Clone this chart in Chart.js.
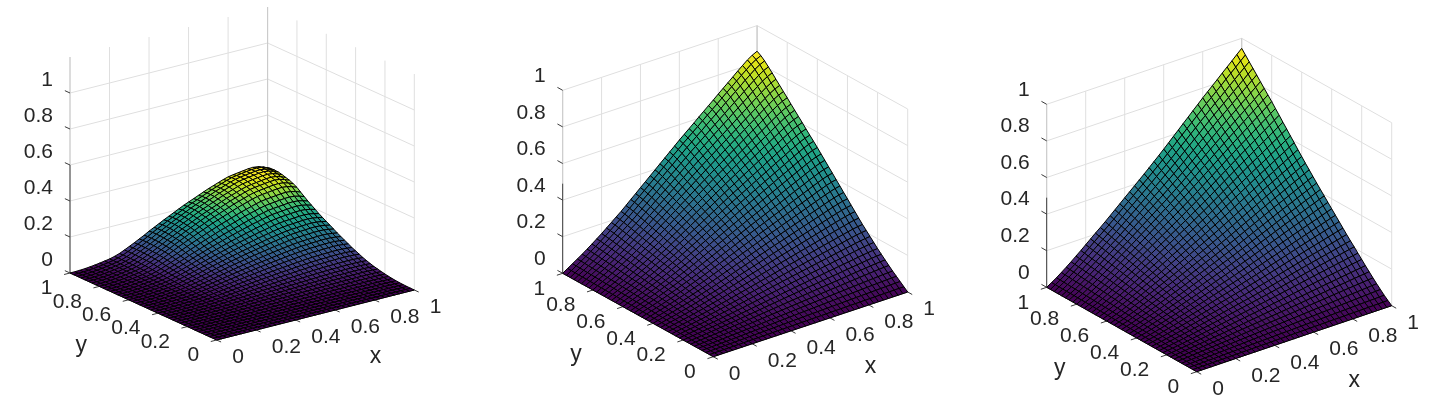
<!DOCTYPE html>
<html>
<head>
<meta charset="utf-8">
<title>Surfaces</title>
<script src="https://cdn.jsdelivr.net/npm/chart.js@4"></script>
<style>
  html, body { margin: 0; background: #fff; }
  canvas { position: absolute; top: 0; }
</style>
</head>
<body>
<canvas id="surfaceA" width="478" height="412" style="left:0"></canvas>
<canvas id="surfaceB" width="482" height="412" style="left:478px"></canvas>
<canvas id="surfaceC" width="476" height="412" style="left:960px"></canvas>
<script>
// mesh nodes along x and along y
var meshNodes = [0, .025, .05, .075, .1, .125, .15, .175, .2, .225, .25, .275, .3, .325, .35, .375, .4, .425, .45, .475, .5,
    .525, .55, .575, .6, .625, .65, .675, .7, .725, .75, .775, .8, .825, .85, .875, .9, .925, .95, .975, 1];

// edge profiles, height of a node = profileX[i] * profileY[j] * peak
var edgeAx = [0, .001, .004, .01, .018, .028, .04, .054, .068, .09, .118, .155, .195, .235, .278, .32, .368, .41, .452, .495, .535,
    .575, .615, .655, .69, .725, .76, .795, .83, .86, .89, .92, .945, .96, .972, .984, .995, 1, .99, .965, .93];
var edgeAy = [0, .001, .003, .006, .01, .016, .024, .034, .046, .06, .076, .092, .112, .135, .16, .19, .22, .25, .285, .32, .355,
    .39, .43, .47, .505, .545, .585, .63, .675, .72, .77, .82, .875, .91, .94, .96, .98, .995, 1, 1, .985];
var edgeB = [0, .02, .04, .06, .08, .102, .124, .147, .17, .195, .22, .245, .27, .297, .325, .352, .38, .407, .435, .462, .49,
    .517, .545, .572, .6, .626, .652, .678, .705, .731, .757, .783, .81, .836, .862, .888, .915, .94, .965, .985, 1];
var edgeC = [0, .018, .036, .057, .078, .1, .123, .146, .17, .194, .218, .241, .265, .29, .315, .34, .365, .39, .415, .44, .465,
    .491, .517, .543, .57, .597, .625, .652, .68, .707, .735, .762, .79, .816, .842, .868, .895, .921, .947, .974, 1];
var peakA = 0.335;
var peakB = 0.86;
var peakC = 0.945;

var xTicks = [0, .2, .4, .6, .8, 1];
var yTicks = [0, .2, .4, .6, .8, 1];
var zTicks = [0, .2, .4, .6, .8, 1];
var tickLabels = ['0', '0.2', '0.4', '0.6', '0.8', '1'];

var viridis = ['#440154', '#481567', '#482677', '#453781', '#404788', '#39568c', '#33638d', '#2d708e', '#287d8e', '#238a8d',
    '#1f968b', '#20a386', '#29af7f', '#3cbb75', '#55c667', '#73d055', '#95d840', '#b8de29', '#dce319', '#fde725'];

// corner is where x=0,y=0,z=0 lands, the u vectors are one unit of x, y, z
var panels = [
    { id: 'surfaceA', left: 0, width: 478, edgeX: edgeAx, edgeY: edgeAy, peak: peakA, zTop: 1.2, zDark: .6, zLift: -12.8,
      corner: [216.7, 340], ux: [197.6, -50], uy: [-146.7, -67], uz: [0, -180] },
    { id: 'surfaceB', left: 478, width: 482, edgeX: edgeB, edgeY: edgeB, peak: peakB, zTop: 1, zDark: .49, zLift: -14,
      corner: [713.3, 356.7], ux: [194.4, -64.7], uy: [-150.6, -83.4], uz: [0, -183] },
    { id: 'surfaceC', left: 960, width: 476, edgeX: edgeC, edgeY: edgeC, peak: peakC, zTop: 1, zDark: .49, zLift: -14.5,
      corner: [1196.7, 371.7], ux: [195, -66], uy: [-150, -84.4], uz: [0, -183] }
];

function project(p, x, y, z) {
    return {
        x: p.corner[0] + x * p.ux[0] + y * p.uy[0] + z * p.uz[0],
        y: p.corner[1] + x * p.ux[1] + y * p.uy[1] + z * p.uz[1]
    };
}

function rgbOf(hex) {
    return [1, 3, 5].map(function(k) { return parseInt(hex.substr(k, 2), 16); });
}

function colorOf(t) {
    var pos = Math.min(Math.max(t, 0), 1) * (viridis.length - 1);
    var k = Math.min(Math.floor(pos), viridis.length - 2);
    var a = rgbOf(viridis[k]), b = rgbOf(viridis[k + 1]), f = pos - k;
    return 'rgb(' + a.map(function(v, n) { return Math.round(v + (b[n] - v) * f); }).join(',') + ')';
}

function lineSet(points, color, width) {
    return {
        data: points, borderColor: color, borderWidth: width,
        pointRadius: 0, fill: false, tension: 0, clip: false
    };
}

// lowest index is painted last, so nearest cells go first and the walls at the end
function buildDatasets(p) {
    var sets = [];
    var h = meshNodes.map(function(_, i) {
        return meshNodes.map(function(_, j) { return p.edgeX[i] * p.edgeY[j] * p.peak; });
    });

    for (var i = 0; i < meshNodes.length - 1; i++) {
        for (var j = 0; j < meshNodes.length - 1; j++) {
            var x0 = meshNodes[i], x1 = meshNodes[i + 1], y0 = meshNodes[j], y1 = meshNodes[j + 1];
            var mean = (h[i][j] + h[i + 1][j] + h[i + 1][j + 1] + h[i][j + 1]) / 4;
            sets.push({
                data: [
                    project(p, x0, y0, h[i][j]), project(p, x1, y0, h[i + 1][j]),
                    project(p, x1, y1, h[i + 1][j + 1]), project(p, x0, y1, h[i][j + 1]),
                    project(p, x0, y0, h[i][j])
                ],
                backgroundColor: colorOf(mean / p.peak),
                borderColor: '#000', borderWidth: 1, borderJoinStyle: 'round',
                pointRadius: 0, fill: 'shape', tension: 0, clip: false
            });
        }
    }

    var dark = '#3a3a3a', grid = '#dfdfdf', wall = '#c9c9c9';

    xTicks.forEach(function(v) {
        sets.push(lineSet([project(p, v, 0, 0), project(p, v, -.03, 0)], dark, 1));
    });
    yTicks.forEach(function(v) {
        sets.push(lineSet([project(p, 0, v, 0), project(p, -.03, v, 0)], dark, 1));
    });
    zTicks.forEach(function(v) {
        sets.push(lineSet([project(p, 0, 1, v), project(p, 0, 1.035, v)], dark, 1));
    });
    sets.push(lineSet([project(p, 0, 1, 0), project(p, 0, 0, 0), project(p, 1, 0, 0)], dark, 1));
    sets.push(lineSet([project(p, 0, 1, 0), project(p, 0, 1, p.zDark)], dark, 1));
    sets.push(lineSet([project(p, 0, 1, p.zDark), project(p, 0, 1, p.zTop)], wall, 1));
    sets.push(lineSet([project(p, 1, 1, 0), project(p, 1, 1, p.zTop)], wall, 1));

    zTicks.forEach(function(v) {
        sets.push(lineSet([project(p, 0, 1, v), project(p, 1, 1, v), project(p, 1, 0, v)], grid, 1));
    });
    xTicks.forEach(function(v) {
        sets.push(lineSet([project(p, v, 1, 0), project(p, v, 1, p.zTop)], grid, 1));
    });
    yTicks.forEach(function(v) {
        sets.push(lineSet([project(p, 1, v, 0), project(p, 1, v, p.zTop)], grid, 1));
    });
    return sets;
}

function axisText(p) {
    return {
        id: 'axisText',
        afterDraw: function(chart) {
            var ctx = chart.ctx, sx = chart.scales.x, sy = chart.scales.y;
            function put(text, pt, dx, dy, align, size) {
                ctx.font = size + 'px "Liberation Sans", Arial, sans-serif';
                ctx.textAlign = align;
                ctx.textBaseline = 'middle';
                ctx.fillStyle = '#262626';
                ctx.fillText(text, sx.getPixelForValue(pt.x) + dx, sy.getPixelForValue(pt.y) + dy);
            }
            ctx.save();
            tickLabels.forEach(function(label, k) {
                put(label, project(p, xTicks[k], 0, 0), 15.5, 17.5, 'left', 21);
                put(label, project(p, 0, yTicks[k], 0), -17.5, 15.5, 'right', 21);
                put(label, project(p, 0, 1, zTicks[k]), -17, p.zLift, 'right', 21);
            });
            put('x', project(p, .5, 0, 0), 60, 42, 'center', 23);
            put('y', project(p, 0, .5, 0), -62, 39.5, 'center', 23);
            ctx.restore();
        }
    };
}

panels.forEach(function(p) {
    new Chart(document.getElementById(p.id), {
        type: 'line',
        data: { datasets: buildDatasets(p) },
        plugins: [axisText(p)],
        options: {
            responsive: false,
            animation: false,
            parsing: false,
            events: [],
            layout: { padding: 0 },
            plugins: { legend: { display: false }, tooltip: { enabled: false } },
            scales: {
                x: { type: 'linear', display: false, min: p.left, max: p.left + p.width },
                y: { type: 'linear', display: false, min: 0, max: 412, reverse: true }
            }
        }
    });
});
</script>
</body>
</html>
